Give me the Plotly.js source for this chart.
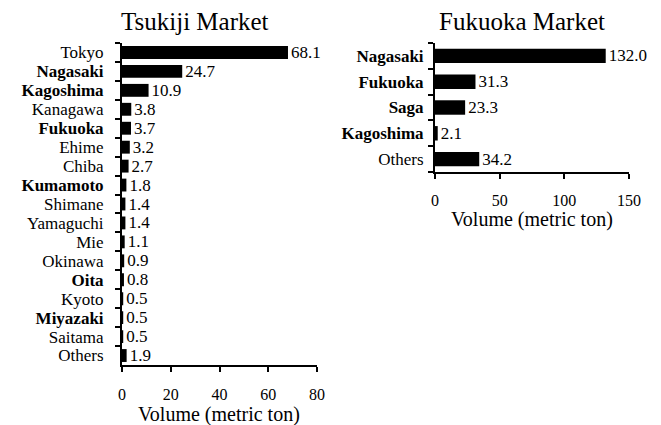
<!DOCTYPE html>
<html><head><meta charset="utf-8">
<script src="https://cdn.plot.ly/plotly-3.0.1.min.js"></script>
<style>html,body{margin:0;padding:0;background:#fff}#c{width:661px;height:425px}</style>
</head><body><div id="c"></div>
<script>
const tsukijiPrefs = ["Tokyo","Nagasaki","Kagoshima","Kanagawa","Fukuoka","Ehime","Chiba","Kumamoto","Shimane","Yamaguchi","Mie","Okinawa","Oita","Kyoto","Miyazaki","Saitama","Others"];
const tsukijiVals = [68.1,24.7,10.9,3.8,3.7,3.2,2.7,1.8,1.4,1.4,1.1,0.9,0.8,0.5,0.5,0.5,1.9];
const fukuokaPrefs = ["Nagasaki","Fukuoka","Saga","Kagoshima","Others"];
const fukuokaVals = [132.0,31.3,23.3,2.1,34.2];
const boldPrefs = ["Nagasaki","Kagoshima","Fukuoka","Kumamoto","Oita","Miyazaki","Saga"];
const tsukijiTicks = [0,20,40,60,80];
const fukuokaTicks = [0,50,100,150];
const axisTitle = "Volume (metric ton)";

const W=661,H=425;
const FONT="'Liberation Serif', 'Times New Roman', serif";
const fmt = n => boldPrefs.includes(n) ? "<b>"+n+"</b>" : n;

const bar = (y,x,xa,ya,w)=>({type:"bar",orientation:"h",y:y,x:x,xaxis:xa,yaxis:ya,
  marker:{color:"#000"},width:w,text:x.map(v=>v.toFixed(1)),textposition:"outside",constraintext:"none",
  textfont:{family:FONT,size:17,color:"#000"},cliponaxis:false,hoverinfo:"none"});

const data=[bar(tsukijiPrefs,tsukijiVals,"x","y",0.68),bar(fukuokaPrefs,fukuokaVals,"x2","y2",0.56)];

const axCommon={showgrid:false,zeroline:false,showline:true,linecolor:"#000",linewidth:2,
  ticks:"outside",ticklen:5,tickwidth:2,tickcolor:"#000",tickfont:{family:FONT,size:17,color:"#000"}};
const xTickFont={family:FONT,size:16,color:"#000"};

const ann=(t,xp,yp,s)=>({text:t,x:xp/W,y:1-yp/H,xref:"paper",yref:"paper",showarrow:false,xanchor:"center",yanchor:"middle",font:{family:FONT,size:s,color:"#000"}});

const layout={width:W,height:H,margin:{l:0,r:0,t:0,b:0},paper_bgcolor:"#fff",plot_bgcolor:"#fff",
  showlegend:false,font:{family:FONT,color:"#000"},
  xaxis:Object.assign({},axCommon,{domain:[122/W,317/W],anchor:"y",range:[0,80],tickvals:tsukijiTicks,ticklabelstandoff:9,tickfont:xTickFont}),
  yaxis:Object.assign({},axCommon,{domain:[1-365/H,1-43/H],anchor:"x",type:"category",autorange:"reversed",
    tickson:"boundaries",tickvals:tsukijiPrefs,ticktext:tsukijiPrefs.map(fmt),ticklabelstandoff:13}),
  xaxis2:Object.assign({},axCommon,{domain:[435/W,629/W],anchor:"y2",range:[0,150],tickvals:fukuokaTicks,ticklabelstandoff:8,tickfont:xTickFont}),
  yaxis2:Object.assign({},axCommon,{domain:[1-172/H,1-43/H],anchor:"x2",type:"category",autorange:"reversed",
    tickson:"boundaries",tickvals:fukuokaPrefs,ticktext:fukuokaPrefs.map(fmt),ticklabelstandoff:6}),
  annotations:[
    ann("Tsukiji Market",195,21,25),
    ann("Fukuoka Market",522,21,25),
    ann(axisTitle,219,414,20),
    ann(axisTitle,532,219,20)
  ]};
Plotly.newPlot("c",data,layout,{staticPlot:true});
</script></body></html>
